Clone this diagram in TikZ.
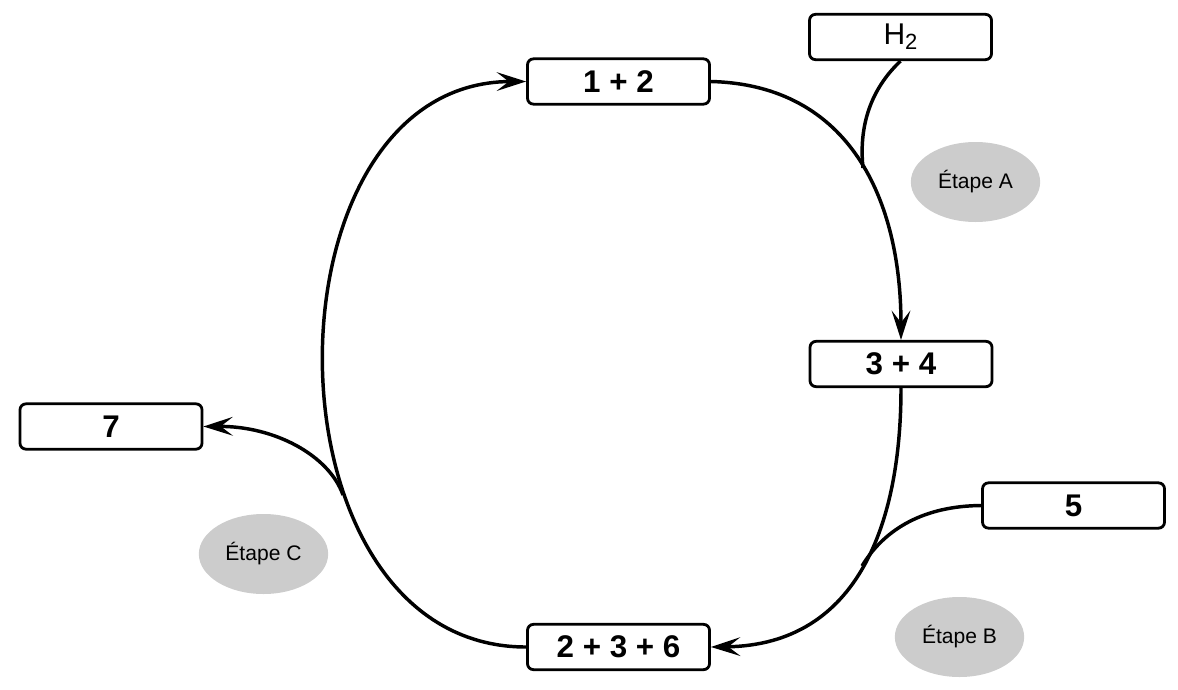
\documentclass[tikz,border=0pt]{standalone}
\usepackage{fontspec}
\setmainfont{Liberation Sans}
\usetikzlibrary{arrows.meta,shapes.geometric}
\definecolor{stepgray}{RGB}{204,204,204}
\begin{document}
\begin{tikzpicture}[x=0.75pt,y=-0.75pt,
  box/.style={draw,fill=white,line width=2.1pt,rounded corners=4.5pt,minimum width=136.5pt,minimum height=34pt,inner sep=0pt,font=\bfseries\fontsize{23.5}{27}\selectfont},
  stage/.style={ellipse,fill=stepgray,minimum width=97pt,minimum height=60pt,inner sep=0pt,font=\fontsize{15.8}{18}\selectfont},
  flow/.style={line width=2.6pt},
  arr/.style={flow,-{Stealth[length=22pt,width=14pt,inset=9pt]}}]
\useasboundingbox (0,0) rectangle (1178,689);
\node[box] (n12) at (618.5,81.5) {1 + 2};
\node[box,font=\fontsize{22.5}{26}\selectfont] (h2) at (900.5,37) {H\raisebox{-0.32ex}{\fontsize{16.5}{18}\selectfont 2}};
\node[box] (n34) at (901,364) {3 + 4};
\node[box] (n7) at (111,426.5) {7};
\node[box] (n5) at (1073.5,505.5) {5};
\node[box] (n236) at (618.5,647) {2 + 3 + 6};
\node[stage] (ea) at (975.5,182) {Étape A};
\node[stage] (eb) at (959.5,637) {Étape B};
\node[stage] (ec) at (263.5,554) {Étape C};
\coordinate (ma) at (863,168);
\coordinate (mb) at (862,566);
\coordinate (mc) at (343,495);
\draw[arr] (n12.east) .. controls (850,85) and (901,200) .. (n34.north);
\draw[flow] (h2.south) .. controls (875,85) and (858,120) .. (ma);
\draw[arr] (n34.south) .. controls (901,520) and (860,645) .. (n236.east);
\draw[flow] (n5.west) .. controls (925,506) and (885,528) .. (mb);
\draw[arr] (n236.west) .. controls (257,647) and (257,82) .. (n12.west);
\draw[arr] (mc) .. controls (329,455) and (274,426) .. (n7.east);
\end{tikzpicture}
\end{document}
